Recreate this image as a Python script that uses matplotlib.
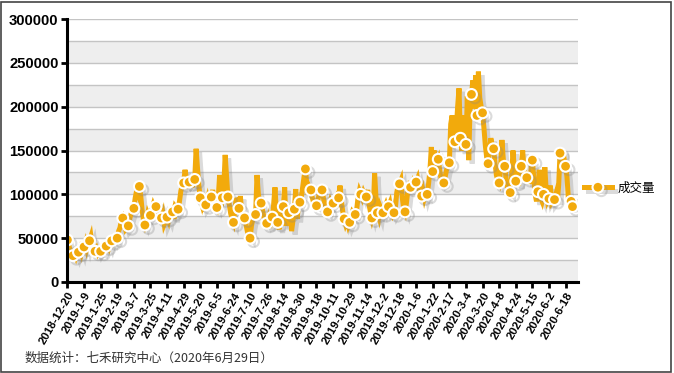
import matplotlib
matplotlib.use('Agg')
import matplotlib.pyplot as plt
import matplotlib.patheffects as pe
from matplotlib.patches import Rectangle
import numpy as np

# daily volume (trading days, 2018-12-20 .. 2020-6-29)
volume = [
    48000, 42000, 36000, 31000, 30000, 33000, 29000, 35000,
    34000, 38000, 33000, 41000, 40000, 45000, 38000, 44000,
    47000, 52000, 40000, 36000, 35000, 38000, 33000, 36000,
    35000, 39000, 36000, 40000, 41000, 44000, 40000, 46000,
    47000, 45000, 49000, 52000, 50000, 58000, 62000, 70000,
    73000, 66000, 60000, 62000, 64000, 72000, 78000, 82000,
    84000, 96000, 104000, 100000, 109000, 98000, 82000, 70000,
    65000, 70000, 78000, 74000, 76000, 82000, 88000, 84000,
    86000, 80000, 75000, 72000, 73000, 78000, 66000, 70000,
    74000, 70000, 78000, 76000, 80000, 72000, 86000, 84000,
    83000, 92000, 104000, 110000, 113000, 128000, 118000, 112000,
    114000, 120000, 108000, 116000, 117000, 152000, 130000, 110000,
    96000, 90000, 100000, 86000, 88000, 94000, 84000, 92000,
    97000, 105000, 92000, 88000, 85000, 96000, 122000, 100000,
    96000, 108000, 145000, 120000, 97000, 88000, 78000, 72000,
    68000, 82000, 96000, 90000, 84000, 98000, 78000, 76000,
    73000, 66000, 58000, 52000, 50000, 64000, 72000, 75000,
    77000, 122000, 100000, 92000, 90000, 82000, 74000, 70000,
    67000, 72000, 62000, 70000, 74000, 88000, 108000, 80000,
    68000, 60000, 72000, 82000, 86000, 108000, 64000, 78000,
    79000, 86000, 58000, 70000, 83000, 106000, 72000, 88000,
    91000, 96000, 108000, 120000, 129000, 112000, 100000, 108000,
    105000, 96000, 90000, 88000, 87000, 94000, 100000, 104000,
    105000, 96000, 88000, 82000, 80000, 86000, 92000, 88000,
    90000, 94000, 98000, 100000, 96000, 110000, 92000, 80000,
    72000, 66000, 70000, 64000, 68000, 74000, 80000, 78000,
    77000, 82000, 96000, 104000, 100000, 96000, 102000, 98000,
    97000, 105000, 88000, 80000, 73000, 80000, 124000, 96000,
    79000, 74000, 86000, 82000, 79000, 84000, 88000, 82000,
    86000, 90000, 80000, 76000, 79000, 84000, 102000, 110000,
    112000, 116000, 96000, 84000, 80000, 90000, 104000, 110000,
    108000, 112000, 104000, 112000, 114000, 118000, 108000, 100000,
    98000, 104000, 96000, 102000, 100000, 112000, 128000, 154000,
    126000, 150000, 132000, 136000, 140000, 128000, 118000, 112000,
    113000, 120000, 128000, 132000, 136000, 180000, 190000, 170000,
    160000, 174000, 200000, 221000, 164000, 150000, 170000, 190000,
    157000, 212000, 139000, 200000, 214000, 230000, 198000, 236000,
    190000, 240000, 210000, 200000, 193000, 176000, 156000, 142000,
    135000, 150000, 164000, 156000, 152000, 136000, 122000, 116000,
    113000, 128000, 162000, 140000, 132000, 118000, 108000, 104000,
    102000, 120000, 150000, 128000, 115000, 126000, 110000, 124000,
    132000, 150000, 128000, 120000, 119000, 126000, 112000, 128000,
    139000, 120000, 100000, 92000, 103000, 128000, 96000, 92000,
    100000, 131000, 104000, 92000, 95000, 110000, 90000, 92000,
    94000, 100000, 92000, 110000, 147000, 138000, 150000, 140000,
    132000, 120000, 96000, 90000, 92000, 86000,
]

tick_labels = [
    '2018-12-20', '2019-1-9', '2019-1-25', '2019-2-19', '2019-3-7',
    '2019-3-25', '2019-4-11', '2019-4-29', '2019-5-20', '2019-6-5',
    '2019-6-24', '2019-7-10', '2019-7-26', '2019-8-14', '2019-8-30',
    '2019-9-18', '2019-10-11', '2019-10-29', '2019-11-14', '2019-12-2',
    '2019-12-18', '2020-1-6', '2020-1-22', '2020-2-17', '2020-3-4',
    '2020-3-20', '2020-4-8', '2020-4-24', '2020-5-15', '2020-6-2',
    '2020-6-18',
]
y_ticks = [0, 50000, 100000, 150000, 200000, 250000, 300000]
series_name = '成交量'
source_note = '数据统计：七禾研究中心（2020年6月29日）'

ORANGE = '#F2AA0C'
CJK = ['Noto Sans CJK SC', 'DejaVu Sans']

x = np.arange(len(volume))
tick_pos = np.arange(len(tick_labels)) * 12
marks = list(range(0, len(volume), 4)) + [len(volume) - 1]

fig = plt.figure(figsize=(6.74, 3.73), dpi=100)
fig.patch.set_facecolor('white')
ax = fig.add_axes([0.0994, 0.244, 0.7582, 0.705])

# alternating bands + grid
for lo in range(0, 300000, 50000):
    ax.axhspan(lo, lo + 25000, color='#eeeeee', zorder=0, lw=0)
for yv in range(25000, 300001, 25000):
    ax.axhline(yv, color='#c4c4c4', lw=1.0, zorder=1)

ax.plot(x, volume, color=ORANGE, lw=3.6, solid_joinstyle='miter',
        marker='o', markevery=marks, markersize=7.8,
        markerfacecolor=ORANGE, markeredgecolor='white', markeredgewidth=1.5,
        label=series_name, zorder=3,
        path_effects=[pe.SimpleLineShadow(offset=(2.5, -2.5), shadow_color='#888888', alpha=0.3),
                      pe.Normal()])

ax.set_xlim(-0.3, 369)
ax.set_ylim(0, 300000)
ax.set_yticks(y_ticks)
ax.set_yticklabels([str(v) for v in y_ticks], fontsize=10.6, fontweight='bold',
                   family='Liberation Sans')
ax.set_xticks(tick_pos)
ax.set_xticklabels(tick_labels, rotation=60, ha='right', rotation_mode='anchor',
                   fontsize=8.2, fontweight='bold', family='Liberation Sans')
ax.tick_params(axis='both', direction='out', length=4, width=2, color='black', pad=2)

for side in ['top', 'right']:
    ax.spines[side].set_visible(False)
for side in ['left', 'bottom']:
    ax.spines[side].set_linewidth(2.2)
    ax.spines[side].set_color('black')
    ax.spines[side].set_zorder(4)

leg = ax.legend(loc='center left', bbox_to_anchor=(0.99, 0.357), frameon=False,
                handlelength=2.2, handletextpad=0.5, prop={'family': CJK, 'size': 9})

fig.text(0.036, 0.03, source_note, family=CJK, fontsize=9, color='#333333')

fig.add_artist(Rectangle((0.002, 0.003), 0.994, 0.992, transform=fig.transFigure,
                         fill=False, edgecolor='#444444', lw=1.2))

plt.savefig('out.png', dpi=100, facecolor='white')
